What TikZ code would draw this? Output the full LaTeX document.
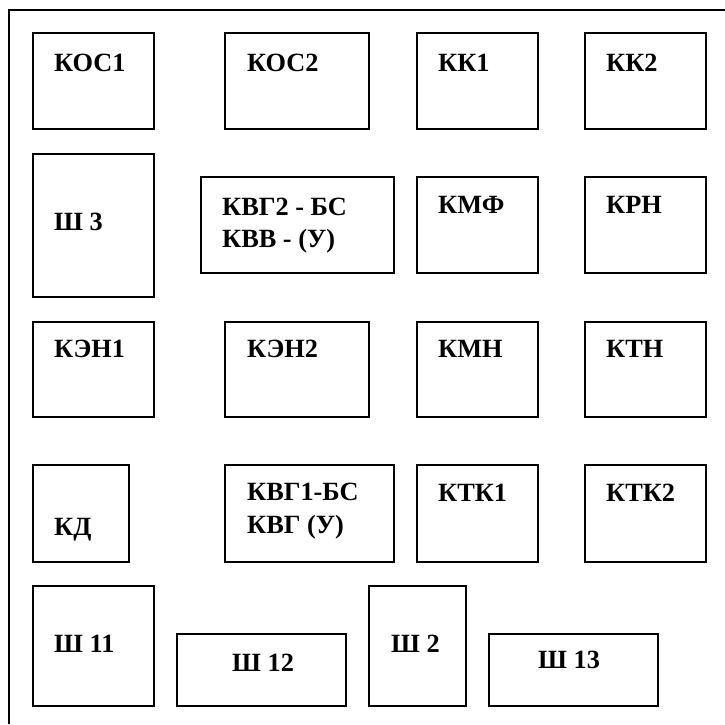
\documentclass[tikz,border=0pt]{standalone}
\usepackage{fontspec}
\setmainfont{Liberation Serif}
\begin{document}
\begin{tikzpicture}[x=1pt,y=-1pt,
  box/.style={draw=black,line width=1.3pt,fill=white},
  lbl/.style={font=\fontsize{26.3}{30}\selectfont\bfseries,inner sep=0pt,anchor=base west}]
\useasboundingbox (0,0) rectangle (725,724);
% frame (top and left only)
\coordinate (fl) at (9,724);
\coordinate (ftl) at (9,10);
\coordinate (ftr) at (725,10);
\draw[line width=1.6pt] (fl) -- (ftl) -- (ftr);
\coordinate (sa) at (9,682);
\coordinate (sb) at (9,705);
\draw[line width=2.6pt] (sa) -- (sb);
% boxes
\newcommand{\bx}[5]{\path[box] (#2,#3) rectangle (#4,#5) node[inner sep=0pt,minimum size=0pt] (#1) {};}
\bx{b1}{33}{33}{154}{129}
\bx{b2}{225}{33}{369}{129}
\bx{b3}{417}{33}{538}{129}
\bx{b4}{585}{33}{706}{129}
\bx{b5}{33}{154}{154}{297}
\bx{b6}{201}{177}{394}{273}
\bx{b7}{417}{177}{538}{273}
\bx{b8}{585}{177}{706}{273}
\bx{b9}{33}{322}{154}{417}
\bx{b10}{225}{322}{369}{417}
\bx{b11}{417}{322}{538}{417}
\bx{b12}{585}{322}{706}{417}
\bx{b13}{33}{465}{129}{562}
\bx{b14}{225}{465}{394}{562}
\bx{b15}{417}{465}{538}{562}
\bx{b16}{585}{465}{706}{562}
\bx{b17}{33}{586}{154}{706}
\bx{b18}{177}{634}{346}{706}
\bx{b19}{369}{586}{466}{706}
\bx{b20}{489}{634}{658}{706}
% labels
\node[lbl] (t1) at (54,71) {КОС1};
\node[lbl] (t2) at (247,71) {КОС2};
\node[lbl] (t3) at (438,71) {КК1};
\node[lbl] (t4) at (606,71) {КК2};
\node[lbl] (t5) at (54,230) {Ш 3};
\node[lbl] (t6a) at (222,215) {КВГ2 - БС};
\node[lbl] (t6b) at (222,247) {КВВ - (У)};
\node[lbl] (t7) at (438,213) {КМФ};
\node[lbl] (t8) at (606,213) {КРН};
\node[lbl] (t9) at (54,357) {КЭН1};
\node[lbl] (t10) at (247,357) {КЭН2};
\node[lbl] (t11) at (438,357) {КМН};
\node[lbl] (t12) at (606,357) {КТН};
\node[lbl] (t13) at (54,535) {КД};
\node[lbl] (t14a) at (247,500) {КВГ1-БС};
\node[lbl] (t14b) at (247,533) {КВГ (У)};
\node[lbl] (t15) at (438,501) {КТК1};
\node[lbl] (t16) at (606,501) {КТК2};
\node[lbl] (t17) at (54,652) {Ш 11};
\node[lbl] (t18) at (232,671) {Ш 12};
\node[lbl] (t19) at (391,652) {Ш 2};
\node[lbl] (t20) at (538,668) {Ш 13};
\end{tikzpicture}
\end{document}
